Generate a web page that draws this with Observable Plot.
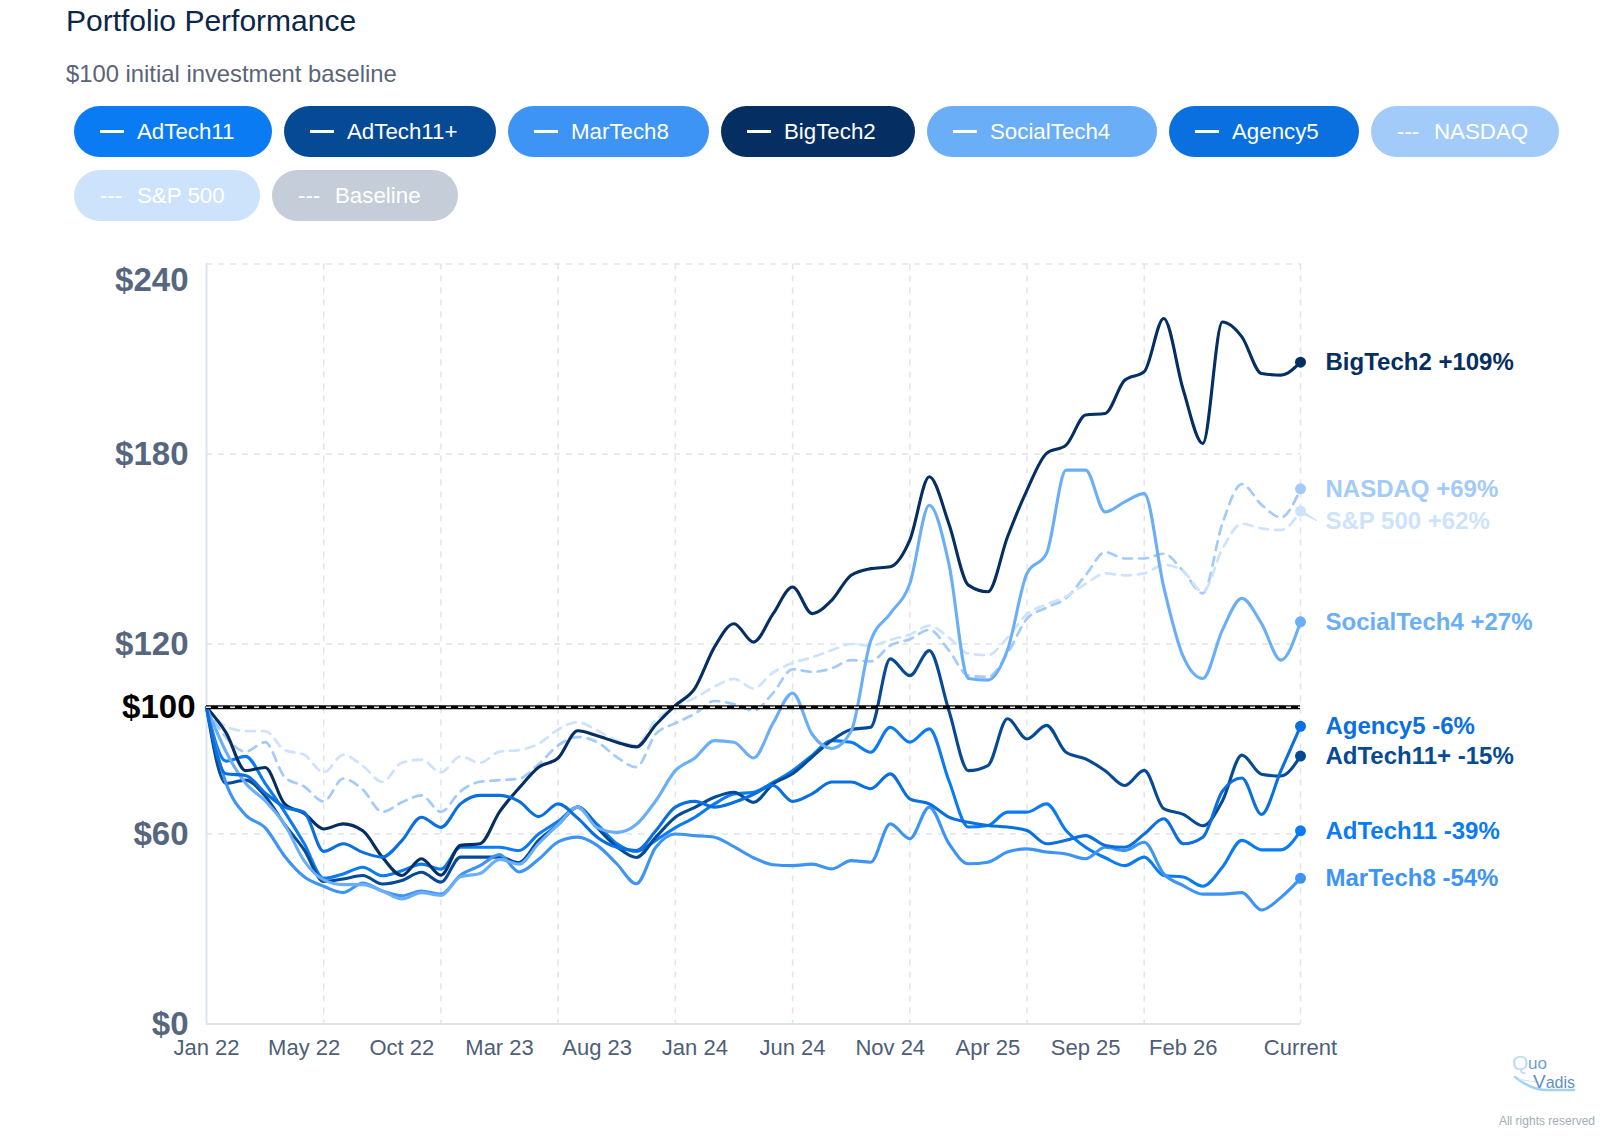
<!DOCTYPE html>
<html>
<head>
<meta charset="utf-8">
<script src="https://cdn.jsdelivr.net/npm/d3@7"></script>
<script src="https://cdn.jsdelivr.net/npm/@observablehq/plot@0.6"></script>
<style>
  html, body { margin: 0; padding: 0; background: #ffffff; }
  body { width: 1624px; height: 1140px; position: relative; overflow: hidden;
         font-family: "Liberation Sans", Arial, Helvetica, sans-serif; }
  #title { position: absolute; left: 66px; top: 6px; font-size: 30px; line-height: 30px; color: #0c2647; white-space: nowrap; }
  #subtitle { position: absolute; left: 66px; top: 62px; font-size: 23.8px; line-height: 24px; color: #5a6477; white-space: nowrap; }
  #legend { position: absolute; left: 74px; top: 106px; width: 1500px; display: flex; flex-wrap: wrap; column-gap: 12px; row-gap: 13px; }
  .pill { height: 51px; border-radius: 26px; padding: 0 0 0 26px; display: flex; align-items: center;
          color: #ffffff; font-size: 22.3px; box-sizing: border-box; white-space: nowrap; }
  .pill .sw { display: inline-block; width: 24px; height: 3.5px; background: #ffffff; margin-right: 13px; }
  .pill .dash { display: inline-block; width: 24px; margin-right: 13px; overflow: hidden; }
  #chart { position: absolute; left: 0; top: 230px; }
  #logo { position: absolute; left: 1505px; top: 1048px; }
  #rights { position: absolute; right: 29px; top: 1115px; font-size: 12px; line-height: 12px; color: #a5acb6; white-space: nowrap; }
</style>
</head>
<body>
<div id="title">Portfolio Performance</div>
<div id="subtitle">$100 initial investment baseline</div>
<div id="legend"></div>
<div id="chart"></div>
<svg id="logo" width="80" height="55" viewBox="0 0 80 55">
  <path d="M10 29 C 20 37, 30 42, 42 42 L 69 42" stroke="#a6d2f1" stroke-width="2.5" fill="none" stroke-linecap="round"/>
  <path d="M14 31 C 22 33, 28 34, 34 34" stroke="#cfe7f8" stroke-width="1.2" fill="none" stroke-linecap="round"/>
  <text x="7" y="22" font-size="21" fill="#bcdcf4" font-family="Liberation Sans, Arial, sans-serif">Q</text>
  <text x="23" y="21" font-size="17" fill="#6f9fd2" font-family="Liberation Sans, Arial, sans-serif">uo</text>
  <text x="28" y="40" font-size="19" fill="#5f90c6" font-family="Liberation Sans, Arial, sans-serif">V<tspan font-size="16">adis</tspan></text>
</svg>
<div id="rights">All rights reserved</div>

<script>
// ---------- data ----------
const xTickLabels = ["Jan 22","May 22","Oct 22","Mar 23","Aug 23","Jan 24","Jun 24","Nov 24","Apr 25","Sep 25","Feb 26","Current"];
const xTickIndex  = [0, 5, 10, 15, 20, 25, 30, 35, 40, 45, 50, 56];
const xGridIndex  = [6, 12, 18, 24, 30, 36, 42, 48, 56];
const yTicks      = [0, 60, 120, 180];
const yTopTick    = [240];
const yGrid       = [60, 120, 180, 240];
const baselineValue = [100];

const seriesNames  = ["AdTech11","AdTech11+","MarTech8","BigTech2","SocialTech4","Agency5","NASDAQ","S&P 500"];
const seriesColors = ["#0b7bf3","#064a96","#3d94f5","#052f62","#6aaef8","#0a6fdf","#a3cbf9","#cde3fb"];
const seriesDashed = [false,false,false,false,false,false,true,true];
const baselineName = "Baseline";
const baselineColor = "#c5cdd8";

const adtech11 = [100,83,84.5,76,67,57,46,47.4,49.5,46.8,
  48.4,50.5,48.9,55.8,55.8,55.8,54.8,60,64,68.5,
  63,57,54.5,58,62,65.3,69.5,72.6,73.2,76.3,
  80,84.8,89.5,89,85.8,93.7,89,93.2,76.9,62.2,
  62.7,66.9,66.9,69.5,61.1,55.8,52.5,50,52.7,46.9,
  46.4,43.5,49.5,58,55,55,61];
const adtech11plus = [100,76,77,72,63,55,45,45.8,46.9,44.2,
  45.3,47.9,44.8,52.7,52.7,52.7,51,58,63,68.5,
  62,56,52.6,59,65.3,68.4,71.6,73.2,70,75.8,
  79,84.3,89.5,93,93.7,115.3,110,117.9,99,80,
  81.6,96.4,90,94.3,85.8,83.7,80,75.3,80.1,68,
  66.2,62.6,70.4,84.9,78.9,78.3,84.6];
const martech8 = [100,76,66,62,53,46.5,43.5,41.5,44.5,42,
  40.5,42,41,47,50,53.5,48,52,57.5,59,
  56.4,50.6,44.3,55.8,60,59.5,59,56,52.5,50.3,
  50,50.5,49,51.6,51.1,63.2,58.5,68.5,57,50.6,
  51.1,54.3,55.3,54.3,53.7,52.2,55.8,54.8,57.4,47.4,
  43.7,41,41,41.5,36,40,46];
const bigtech2 = [100,92,80,81,69.5,66.5,61.6,63.2,61,52.7,
  46.9,52.2,47,56.4,56.9,67,74.5,81.1,84,92.6,
  91,89,87.5,94.5,100.6,106,119,126.4,120.6,129.5,
  138,129.6,133.8,141.7,143.8,144.4,152.8,172.8,158,138.6,
  136.5,153.8,168.6,180.2,182.8,192.3,192.8,203.3,206,222.8,
  200.2,183.3,221.7,217,205.4,204.9,209];
const socialtech4 = [100,86,76,70.5,63,51.5,45.5,44,44,42,
  39.5,41.5,40.6,46.5,47.5,52,50.5,57,63,68.5,
  62,60.5,63,70.5,80,84,89.5,89,84,95,
  104.5,91.5,87,92.5,121,129.6,139,163.8,145.4,109.1,
  108.6,118.1,142.3,148.6,174.9,174.9,161.7,164.9,167.5,138,
  116,109.1,124.4,134.4,126.5,114.9,127];
const agency5 = [100,79,78.5,73,68.5,66.8,54.5,56.9,54.2,52.7,
  57.9,65.3,62.1,69.5,72.2,72.2,70.3,65.5,69.5,65,
  59,55.8,54.8,61,68.5,70.3,68.5,70,72.5,75.3,
  70.3,72.7,76.4,76.4,74.3,79,71.1,69.5,65.3,63.7,
  62.7,62.2,61.1,56.9,58,59.5,56.4,55.8,60,64.8,
  56.9,59,73.5,77.7,66.2,80,94];
const nasdaq = [100,90.5,86,89,78,75,70.3,77.5,74,67,
  70,72.2,67,73.5,76.5,77,77.5,82,88,90.6,
  89,84.3,81.1,91.6,95,98,102,101,99,104.5,
  112,111.2,112.3,114.9,114.5,119.5,121.5,124.5,118,110,
  109.6,117,128,131.5,134.5,141.7,149,147,147,148.5,
  143,136,158,170.5,164,160,169];
const sp500 = [100,94,92.5,92.5,86.5,85,79.5,85,81.5,76.5,
  82.5,83.5,79.5,84.5,82.5,86,86.5,88.5,93,95.3,
  92.7,89.5,88,96,100,103,106.5,109,106,111,
  114,115.8,118,120,119.5,121.3,123,125.8,122,117,
  116.5,122,129.5,132.5,135,139,142.3,141.7,142.3,145,
  143,136.5,150,158,156.5,156,162];

const seriesValues = [adtech11, adtech11plus, martech8, bigtech2, socialtech4, agency5, nasdaq, sp500];

// ---------- legend (pill widths are layout styling) ----------
const pillWidths = [198, 212, 201, 194, 230, 190, 188, 186, 186];
const legend = document.getElementById("legend");
const pillDefs = seriesNames.map((n, k) => ({name: n, color: seriesColors[k], dashed: seriesDashed[k]}))
  .concat([{name: baselineName, color: baselineColor, dashed: true}]);
pillDefs.forEach((p, k) => {
  const el = document.createElement("div");
  el.className = "pill";
  el.style.background = p.color;
  el.style.width = pillWidths[k] + "px";
  const icon = document.createElement("span");
  if (p.dashed) { icon.className = "dash"; icon.textContent = "---"; }
  else { icon.className = "sw"; }
  el.appendChild(icon);
  const t = document.createElement("span");
  t.textContent = p.name;
  el.appendChild(t);
  legend.appendChild(el);
});

// ---------- tidy data ----------
const rows = [];
const ends = [];
seriesNames.forEach((name, k) => {
  const vals = seriesValues[k];
  vals.forEach((v, i) => rows.push({name, i, v, color: seriesColors[k], dashed: seriesDashed[k]}));
  const last = vals[vals.length - 1];
  const pct = Math.round(last - 100);
  ends.push({name, i: vals.length - 1, v: last, color: seriesColors[k],
             label: `${name} ${pct >= 0 ? "+" : ""}${pct}%`});
});
const dashedRows = rows.filter(d => d.dashed);
const solidRows = rows.filter(d => !d.dashed);
const endsMain = ends.filter(d => d.name !== "S&P 500");
const endsShift = ends.filter(d => d.name === "S&P 500");

const FONT = "'Liberation Sans', Arial, Helvetica, sans-serif";
const gridStyle = {stroke: "#dfe4ec", strokeWidth: 1.5, strokeDasharray: "6,6"};

const chart = Plot.plot({
  width: 1624,
  height: 860,
  marginTop: 33.5,
  marginBottom: 66.5,
  marginLeft: 206,
  marginRight: 324,
  x: {domain: [0, 56], axis: null},
  y: {domain: [0, 240], axis: null},
  color: {type: "identity"},
  style: {fontFamily: FONT, background: "transparent", overflow: "visible"},
  marks: [
    Plot.ruleX(xGridIndex, gridStyle),
    Plot.ruleY(yGrid, gridStyle),
    Plot.ruleX([0], {stroke: "#dde3ec", strokeWidth: 2}),
    Plot.ruleY([0], {stroke: "#dde3ec", strokeWidth: 2}),
    Plot.line(dashedRows, {x: "i", y: "v", z: "name", stroke: "color", strokeWidth: 2.7,
      strokeDasharray: "9,7", curve: "monotone-x"}),
    Plot.line(solidRows, {x: "i", y: "v", z: "name", stroke: "color", strokeWidth: 3.1,
      curve: "monotone-x"}),
    Plot.ruleY(baselineValue, {stroke: "#000000", strokeWidth: 4}),
    Plot.ruleY(baselineValue, {stroke: "#e2e6ec", strokeWidth: 1.5, strokeDasharray: "5,7"}),
    Plot.vector(endsShift, {x: "i", y: "v", length: 15, rotate: 120, anchor: "start",
      shape: "spike", r: 1.2, stroke: "color", fill: "color", strokeWidth: 1, dx: 3, dy: 2}),
    Plot.dot(ends, {x: "i", y: "v", fill: "color", r: 5.5}),
    Plot.text(endsMain, {x: "i", y: "v", text: "label", fill: "color", dx: 25, textAnchor: "start",
      fontSize: 24, fontWeight: "bold"}),
    Plot.text(endsShift, {x: "i", y: "v", text: "label", fill: "color", dx: 25, dy: 10, textAnchor: "start",
      fontSize: 24, fontWeight: "bold"}),
    // y tick labels
    Plot.text(yTicks, {y: d => d, frameAnchor: "left", text: d => "$" + d, dx: -18, textAnchor: "end",
      fontSize: 33, fontWeight: "bold", fill: "#56667f"}),
    Plot.text(yTopTick, {y: d => d, frameAnchor: "left", text: d => "$" + d, dx: -18, dy: 16, textAnchor: "end",
      fontSize: 33, fontWeight: "bold", fill: "#56667f"}),
    Plot.text(baselineValue, {y: d => d, frameAnchor: "left", text: d => "$" + d, dx: -11, textAnchor: "end",
      fontSize: 33, fontWeight: "bold", fill: "#000000"}),
    // x tick labels
    Plot.text(xTickIndex, {x: d => d, frameAnchor: "bottom", text: (d, k) => xTickLabels[k], dy: 31,
      fontSize: 22, fill: "#4e5e78"})
  ]
});
document.getElementById("chart").appendChild(chart);
</script>
</body>
</html>
